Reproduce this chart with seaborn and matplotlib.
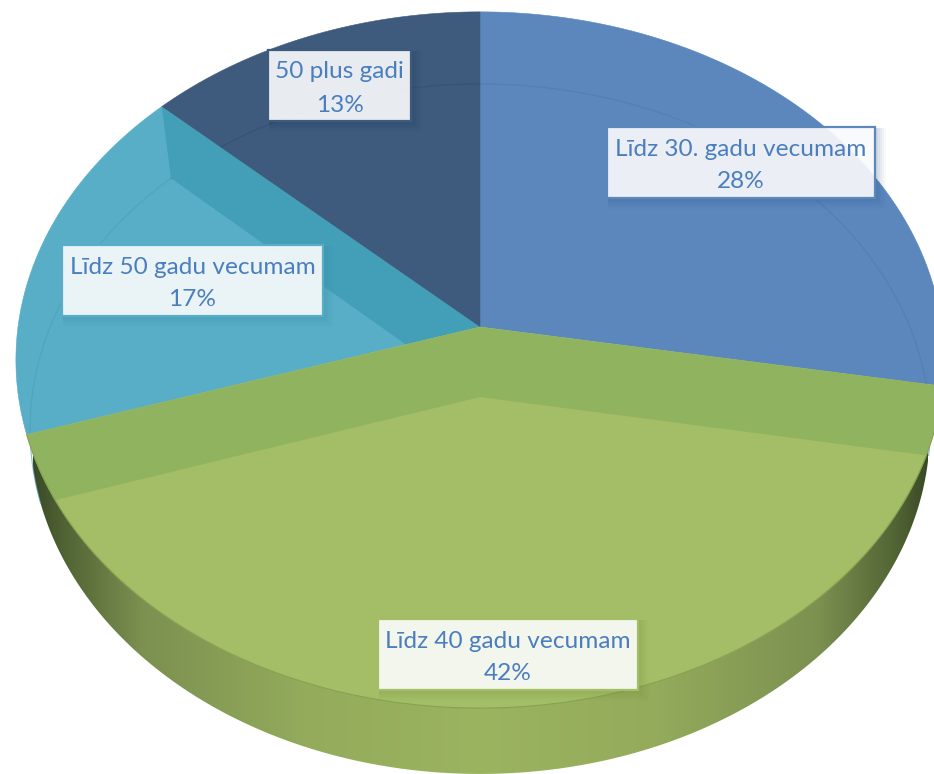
import numpy as np
import matplotlib
matplotlib.use("Agg")
import matplotlib.pyplot as plt
from matplotlib.patches import Rectangle, Polygon
from matplotlib.colors import LinearSegmentedColormap
import seaborn as sns

# ---- data ----
categories = ["Līdz 30. gadu vecumam", "Līdz 40 gadu vecumam", "Līdz 50 gadu vecumam", "50 plus gadi"]
shares = [27.7, 42.4, 16.8, 13.1]
percent_labels = ["28%", "42%", "17%", "13%"]

# ---- style ----
sns.set_theme(style="white")
plt.rcParams["font.family"] = ["Lato", "DejaVu Sans"]
top_colors = sns.color_palette(["#5B87BD", "#A3BE66", "#58AEC6", "#3E5B7E"])
green_wall = "#8FB35F"
teal_wall = "#439EB8"
arc_colors = ["#4F7AB0", None, "#4C9FB8", "#314D70"]
text_color = "#4A7EBF"
box_edges = ["#5B87BD", "#A3BE66", "#58AEC6", "#3E5B7E"]
shadow_colors = ["#2F5688", "#6F8C3A", "#2F8CA6", "#1E3A5E"]
boxes = [(607, 127, 268, 71), (378, 619, 260, 71), (62, 245, 261, 71), (268, 50, 143, 71)]

fig = plt.figure(figsize=(9.34, 7.74), dpi=100)
ax = fig.add_axes([0, 0, 1, 1])


def project(frac, apex_y, A, B, k, cx=480.0):
    """Fraction of the pie (clockwise from top) -> perspective-projected rim point."""
    t = 2 * np.pi * np.asarray(frac, dtype=float)
    u, v = np.sin(t), -np.cos(t)
    w = 1 + k * v
    return cx + A * u / w, apex_y + B * v / w


def top_rim(f):
    return project(f, 327.0, 462.0, 345.0, -0.0948)


def bottom_rim(f):
    return project(f, 397.0, 448.0, 342.0, -0.0927)


APEX_TOP = (480.0, 327.0)
APEX_BOT = (480.0, 397.0)

edges = np.cumsum([0] + shares) / np.sum(shares)

# side of the pie: horizontal shading clipped to the lower disc
fs = np.linspace(0, 1, 721)
bx, by = bottom_rim(fs)
side_cmap = LinearSegmentedColormap.from_list(
    "side", [(0.00, "#3B4A26"), (0.03, "#4F6233"), (0.12, "#7C9050"), (0.30, "#93AB5B"),
             (0.50, "#9BB460"), (0.70, "#93AB5B"), (0.88, "#7C9050"), (0.97, "#4F6233"), (1.00, "#3B4A26")])
grad = np.linspace(0, 1, 512).reshape(1, -1)
im = ax.imshow(grad, extent=(33, 928, 774, 0), aspect="auto", cmap=side_cmap, zorder=1)
clip = Polygon(np.column_stack([bx, by]), closed=True, transform=ax.transData, fc="none", ec="none")
ax.add_patch(clip)
im.set_clip_path(clip)

# top faces
for i, (a, b) in enumerate(zip(edges[:-1], edges[1:])):
    x, y = top_rim(np.linspace(a, b, 200))
    ax.fill(np.r_[APEX_TOP[0], x], np.r_[APEX_TOP[1], y], color=top_colors[i], lw=0.4,
            zorder=4 if i == 1 else 2)

# far rim of the lower disc seen through the blue, teal and navy faces
for i, (a, b) in enumerate(zip(edges[:-1], edges[1:])):
    if arc_colors[i] is None:
        continue
    x, y = bottom_rim(np.linspace(a, b, 200))
    ax.plot(x, y, color=arc_colors[i], lw=0.9, alpha=0.6, zorder=2.5)

# inner wall of the teal slice, derived from its boundary with the navy slice
tx, ty = top_rim(edges[3])
bx3, by3 = bottom_rim(edges[3])
ax.fill([APEX_TOP[0], tx, bx3, APEX_BOT[0]], [APEX_TOP[1], ty, by3, APEX_BOT[1]],
        color=teal_wall, lw=0, zorder=3)

# inner walls of the green slice, clipped to its top face
start, stop = edges[1], edges[2]
sx, sy = top_rim(start)
ex, ey = top_rim(stop)
bsx, bsy = bottom_rim(start)
bex, bey = bottom_rim(stop)
patch = ax.fill([sx, APEX_TOP[0], ex, bex, APEX_BOT[0], bsx],
                [sy, APEX_TOP[1], ey, bey, APEX_BOT[1], bsy],
                color=green_wall, lw=0, zorder=5)[0]
rx, ry = top_rim(np.linspace(start, stop, 300))
green_poly = Polygon(np.column_stack([np.r_[APEX_TOP[0], rx], np.r_[APEX_TOP[1], ry]]),
                     closed=True, transform=ax.transData, fc="none", ec="none")
ax.add_patch(green_poly)
patch.set_clip_path(green_poly)

# thin green rim
ax.plot(rx, ry, color="#86A250", lw=0.8, zorder=5.5)

# labels
for cat, pct, (bx0, by0, bw, bh), ec, sc in zip(categories, percent_labels, boxes, box_edges, shadow_colors):
    for off, al in [(10, 0.03), (8, 0.04), (6, 0.05), (4, 0.06), (2, 0.07)]:
        ax.add_patch(Rectangle((bx0 + 1, by0 + 1), bw + off, bh + off, fc=sc,
                               ec="none", alpha=al, zorder=6))
    ax.add_patch(Rectangle((bx0, by0), bw, bh, fc="white", ec="none", alpha=0.89, zorder=7))
    ax.add_patch(Rectangle((bx0, by0), bw, bh, fc="none", ec=ec, lw=1.6, zorder=7.5))
    cx = bx0 + bw / 2
    ax.text(cx, by0 + 22, cat, ha="center", va="center", fontsize=17.6, color=text_color, zorder=8)
    ax.text(cx, by0 + 55, pct, ha="center", va="center", fontsize=17.6, color=text_color, zorder=8)

ax.set_xlim(0, 934)
ax.set_ylim(774, 0)
ax.axis("off")
fig.savefig("out.png", dpi=100, facecolor="white")
